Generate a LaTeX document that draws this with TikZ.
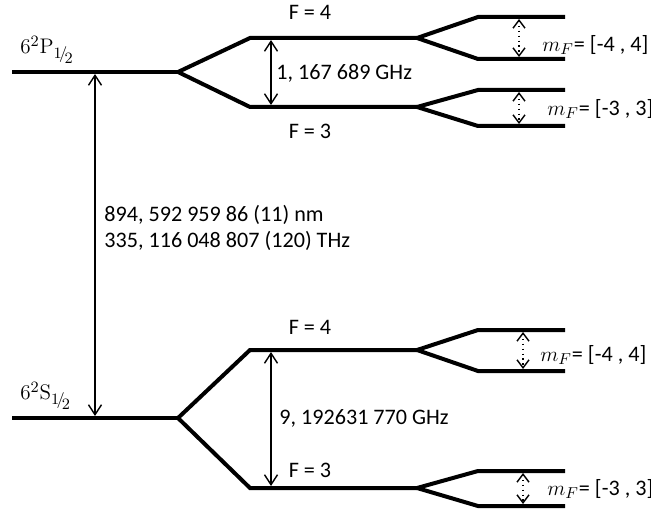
\documentclass[tikz,border=0pt]{standalone}
\usepackage{amsmath}
\usepackage[no-math]{fontspec}
\setmainfont{Carlito}
\usetikzlibrary{arrows.meta,positioning}
\tikzset{
    level/.style={line width=0.8mm, line join=miter},
    gap/.style={line width=0.8pt, {Straight Barb[length=2mm,width=2.6mm]}-{Straight Barb[length=2mm,width=2.6mm]}, shorten <=0.4mm, shorten >=0.4mm},
    zeeman/.style={line width=0.8pt, dotted, {Straight Barb[length=1.6mm,width=2.4mm]}-{Straight Barb[length=1.6mm,width=2.4mm]}, shorten <=0.4mm, shorten >=0.4mm},
    lbl/.style={inner sep=0pt, font=\fontsize{12.6}{15}\selectfont},
    term/.style={inner sep=0pt, font=\fontsize{13}{15}\selectfont}
}
\newcommand{\half}{{1\!/\!\lower0.5ex\hbox{$\scriptstyle 2$}}}

\begin{document}
\begin{tikzpicture}[x=0.2mm,y=-0.2mm]
    \useasboundingbox (0,0) rectangle (651,509);
    % fine structure levels
    \coordinate (P0) at (12,72);
    \coordinate (P) at (178,72);
    \coordinate (S0) at (12,418);
    \coordinate (S) at (178,418);
    % hyperfine levels
    \coordinate (P4l) at (250,38);
    \coordinate (P4r) at (417,38);
    \coordinate (P3l) at (250,107);
    \coordinate (P3r) at (417,107);
    \coordinate (S4l) at (250,350);
    \coordinate (S4r) at (417,350);
    \coordinate (S3l) at (250,488);
    \coordinate (S3r) at (417,488);
    \draw[level] (P0) -- (P);
    \draw[level] (P4r) -- (P4l) -- (P) -- (P3l) -- (P3r);
    \draw[level] (S0) -- (S);
    \draw[level] (S4r) -- (S4l) -- (S) -- (S3l) -- (S3r);
    % Zeeman sublevels
    \foreach \a/\u/\l/\x in {P4r/17/59/519, P3r/90/126/519, S4r/330/371/523, S3r/471/506/523}{
        \coordinate (\a u) at (478,\u);
        \coordinate (\a ue) at (565,\u);
        \coordinate (\a d) at (478,\l);
        \coordinate (\a de) at (565,\l);
        \coordinate (\a zu) at (\x,\u);
        \coordinate (\a zd) at (\x,\l);
        \draw[level] (\a ue) -- (\a u) -- (\a) -- (\a d) -- (\a de);
        \draw[zeeman] (\a zu) -- (\a zd);
    }
    % transitions
    \coordinate (DP) at (95,72);
    \coordinate (DS) at (95,418);
    \draw[gap] (DP) -- (DS);
    \coordinate (HPu) at (271,38);
    \coordinate (HPd) at (271,107);
    \draw[gap] (HPu) -- (HPd);
    \coordinate (HSu) at (271,350);
    \coordinate (HSd) at (271,488);
    \draw[gap] (HSu) -- (HSd);
    % labels
    \node[term, anchor=west] (tP) at (20,50) {$6^{2}\mathrm{P}_{\half}$};
    \node[term, anchor=west] (tS) at (20,396) {$6^{2}\mathrm{S}_{\half}$};
    \node[lbl] (fP4) at (310,12) {F = 4};
    \node[lbl] (fP3) at (310,131) {F = 3};
    \node[lbl] (fS4) at (310,327) {F = 4};
    \node[lbl] (fS3) at (310,470) {F = 3};
    \node[lbl, anchor=west] (hP) at (276,73) {1, 167 689 GHz};
    \node[lbl, anchor=west] (hS) at (279,418) {9, 192631 770 GHz};
    \node[lbl, anchor=west] (dl) at (104,215) {894, 592 959 86 (11) nm};
    \node[lbl, below=1.1mm of dl.south west, anchor=north west] (df) {335, 116 048 807 (120) THz};
    \node[lbl, anchor=west] (mP4) at (542,45) {$m_F$= [-4 , 4]};
    \node[lbl, anchor=west] (mP3) at (547,109) {$m_F$= [-3 , 3]};
    \node[lbl, anchor=west] (mS4) at (540,355) {$m_F$= [-4 , 4]};
    \node[lbl, anchor=west] (mS3) at (547,489) {$m_F$= [-3 , 3]};
\end{tikzpicture}
\end{document}
